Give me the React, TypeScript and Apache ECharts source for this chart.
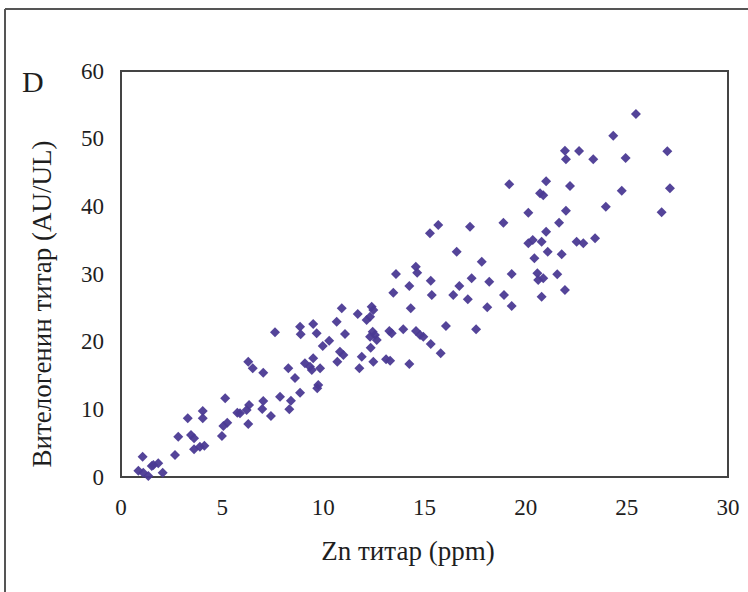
import React, { useEffect, useRef } from "react";
import * as echarts from "echarts";

const xTicks = [0, 5, 10, 15, 20, 25, 30];
const yTicks = [0, 10, 20, 30, 40, 50, 60];
const xTitle = "Zn титар (ppm)";
const yTitle = "Вителогенин титар (AU/UL)";
const panelLabel = "D";

const znValues = [
  0.86, 1.1, 1.35, 1.52, 1.6, 1.84, 2.06, 1.07, 2.67, 2.83, 3.46, 3.61, 3.61, 3.9, 4.12,
  3.3, 4.04, 4.04, 5.15, 5.25, 5.06, 4.99, 5.75, 5.88, 6.21, 6.33, 6.29, 6.29, 6.51, 7.03,
  7.03, 6.98, 7.41, 7.86, 7.61, 8.27, 8.4, 8.32, 8.6, 8.85, 8.85, 8.88, 9.09, 9.34, 9.5,
  9.43, 9.84, 9.5, 9.67, 9.75, 9.7, 9.97, 10.29, 10.66, 10.91, 10.69, 10.82, 10.99, 11.07, 11.7,
  11.78, 11.9, 12.14, 12.31, 12.39, 12.47, 12.34, 12.47, 12.44, 12.55, 12.31, 12.64, 13.1, 13.3, 13.26,
  13.38, 13.46, 13.59, 13.95, 14.25, 14.25, 14.32, 14.57, 14.64, 14.58, 14.78, 14.94, 15.31, 15.36, 15.31,
  15.27, 15.68, 15.8, 16.06, 16.42, 16.59, 16.72, 17.14, 17.25, 17.33, 17.55, 17.83, 18.1, 18.2, 18.9,
  18.93, 19.31, 19.31, 19.19, 20.13, 20.13, 20.35, 20.43, 20.58, 20.62, 20.87, 20.79, 20.79, 20.71, 20.87,
  21.01, 21.01, 21.09, 21.56, 21.65, 21.78, 21.94, 21.94, 21.99, 21.99, 22.19, 22.52, 22.85, 22.64, 23.34,
  23.43, 23.96, 24.33, 24.75, 24.94, 25.45, 26.72, 27.0, 27.13,
];

const vtgValues = [
  0.93, 0.64, 0.15, 1.63, 1.77, 2.02, 0.64, 3.0, 3.25, 5.96, 6.21, 5.72, 4.09, 4.48, 4.63,
  8.67, 9.75, 8.67, 11.63, 8.02, 7.54, 6.06, 9.5, 9.41, 9.9, 10.64, 7.83, 17.04, 16.06, 15.41,
  11.23, 10.05, 9.01, 11.87, 21.38, 16.06, 11.28, 10.0, 14.63, 12.46, 22.21, 21.09, 16.8, 16.3, 17.54,
  15.81, 16.06, 22.61, 21.24, 13.6, 13.11, 19.36, 20.14, 22.95, 24.93, 17.04, 18.52, 18.03, 21.13, 24.09,
  16.06, 17.78, 23.2, 23.69, 25.17, 24.68, 19.11, 17.04, 21.47, 20.98, 20.73, 20.25, 17.39, 17.19, 21.58,
  21.24, 27.24, 30.0, 21.83, 28.23, 16.7, 24.93, 31.08, 30.19, 21.58, 20.98, 20.73, 29.01, 26.9, 19.65,
  36.01, 37.24, 18.28, 22.31, 26.9, 33.29, 28.23, 26.26, 36.99, 29.36, 21.83, 31.82, 25.08, 28.86, 37.58,
  26.9, 30.0, 25.27, 43.25, 39.06, 34.53, 35.02, 32.32, 30.1, 29.11, 29.36, 34.77, 26.64, 41.92, 41.63,
  43.7, 36.25, 33.29, 29.95, 37.58, 32.91, 27.63, 48.22, 46.95, 39.35, 43.0, 34.77, 34.53, 48.17, 46.95,
  35.27, 39.94, 50.44, 42.31, 47.14, 53.64, 39.12, 48.13, 42.66,
];

const FONT = "'Liberation Serif', 'DejaVu Serif', serif";
const TEXT = "#1e1e1e";

export default function App() {
  const ref = useRef<HTMLDivElement>(null);
  useEffect(() => {
    if (!ref.current) return;
    const chart = echarts.init(ref.current, null, { renderer: "svg" });
    const data = znValues.map((x, i) => [x, vtgValues[i]]);
    chart.setOption({
      animation: false,
      backgroundColor: "#ffffff",
      grid: {
        left: 121,
        right: 20,
        top: 71,
        bottom: 115,
        show: true,
        borderColor: "#444444",
        borderWidth: 2,
        backgroundColor: "transparent",
      },
      xAxis: {
        type: "value",
        min: xTicks[0],
        max: xTicks[xTicks.length - 1],
        interval: 5,
        axisLine: { show: false },
        axisTick: { show: false },
        splitLine: { show: false },
        axisLabel: { fontFamily: FONT, fontSize: 23, color: TEXT, margin: 19 },
      },
      yAxis: {
        type: "value",
        min: yTicks[0],
        max: yTicks[yTicks.length - 1],
        interval: 10,
        axisLine: { show: false },
        axisTick: { show: false },
        splitLine: { show: false },
        axisLabel: { fontFamily: FONT, fontSize: 23, color: TEXT, margin: 17 },
      },
      graphic: [
        {
          type: "line",
          shape: { x1: 5, y1: 9, x2: 5, y2: 592 },
          style: { stroke: "#555555", lineWidth: 2 },
        },
        {
          type: "line",
          shape: { x1: 5, y1: 9, x2: 748, y2: 9 },
          style: { stroke: "#555555", lineWidth: 2 },
        },
        {
          type: "text",
          left: 22,
          top: 66,
          style: { text: panelLabel, font: `30px ${FONT}`, fill: TEXT },
        },
        {
          type: "text",
          x: 408,
          y: 551,
          style: {
            text: xTitle,
            font: `27px ${FONT}`,
            fill: TEXT,
            align: "center",
            verticalAlign: "middle",
          },
        },
        {
          type: "text",
          x: 42,
          y: 304,
          rotation: Math.PI / 2,
          style: {
            text: yTitle,
            font: `27px ${FONT}`,
            fill: TEXT,
            align: "center",
            verticalAlign: "middle",
          },
        },
      ],
      series: [
        {
          type: "scatter",
          data,
          symbol: "diamond",
          symbolSize: [10, 10],
          itemStyle: { color: "#4B3A94", opacity: 0.95 },
        },
      ],
    });
    return () => chart.dispose();
  }, []);
  return (
    <div
      ref={ref}
      style={{ position: "fixed", left: 0, top: 0, width: 748, height: 592 }}
    />
  );
}
